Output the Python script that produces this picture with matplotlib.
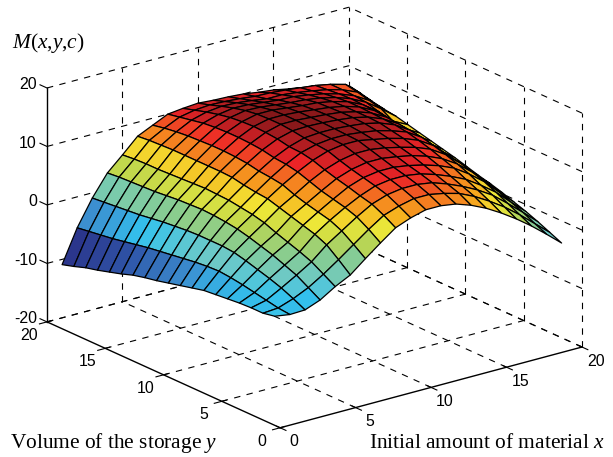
import numpy as np
import matplotlib
matplotlib.use("Agg")
import matplotlib.pyplot as plt
from matplotlib.colors import LinearSegmentedColormap, Normalize
from mpl_toolkits.mplot3d import proj3d

x_values = [1, 2, 3, 4, 5, 6, 7, 8, 9, 10, 11, 12, 13, 14, 15, 16, 17, 18, 19, 20]
y_values = [20, 18.99, 17.97, 16.96, 15.94, 14.93, 13.92, 12.90, 11.89, 10.88,
            9.86, 8.85, 7.83, 6.82, 5.81, 4.79, 3.78, 2.76, 1.75]
m_values = [
    [-10.9,-5.3,-0.9,2.7,5.1,7.6,8.8,10.0,10.3,10.5,10.3,10.2,10.0,9.6,9.3,8.8,8.2,7.7,7.1,6.6],
    [-10.3,-5.0,-0.7,2.9,5.3,7.8,9.2,10.4,10.9,11.1,11.0,10.8,10.5,10.4,10.2,9.9,9.6,9.1,8.4,6.2],
    [-9.6,-4.7,-0.5,3.0,5.4,7.9,9.5,10.8,11.5,11.8,11.7,11.4,11.0,11.0,10.7,10.3,9.8,9.1,8.0,5.7],
    [-9.1,-4.4,-0.3,3.1,5.4,8.0,9.7,11.2,12.0,12.4,12.3,12.0,11.7,11.6,11.2,10.7,10.0,9.0,7.5,5.3],
    [-8.5,-4.0,-0.1,3.2,5.5,8.0,9.8,11.4,12.4,12.9,12.8,12.5,12.2,12.0,11.6,11.0,10.1,8.8,7.0,5.0],
    [-7.9,-3.6,0.2,3.4,5.6,8.0,9.9,11.5,12.6,13.2,13.2,12.9,12.6,12.4,11.9,11.2,10.0,8.2,5.8,4.5],
    [-7.2,-3.2,0.5,3.6,5.7,8.0,9.9,11.5,12.7,13.3,13.3,13.1,12.8,12.5,12.0,11.2,9.9,7.7,5.4,4.0],
    [-6.7,-2.9,0.7,3.7,5.8,8.0,9.8,11.4,12.6,13.3,13.3,13.1,12.9,12.6,12.0,11.1,9.7,7.4,5.1,3.5],
    [-6.3,-2.6,0.9,3.8,5.7,7.9,9.6,11.2,12.4,13.1,13.2,13.1,12.9,12.6,12.0,11.0,9.5,7.2,4.8,3.0],
    [-5.8,-2.3,1.0,3.7,5.6,7.5,9.2,10.8,12.0,12.8,13.0,13.0,12.8,12.5,11.9,10.9,9.3,6.9,4.4,2.5],
    [-5.3,-2.0,1.0,3.5,5.3,7.2,9.0,10.6,11.9,12.6,12.9,12.9,12.6,12.2,11.5,10.6,9.0,6.5,4.0,1.9],
    [-4.8,-1.8,1.0,3.2,5.0,7.0,8.7,10.2,11.5,12.4,12.8,12.8,12.3,11.8,11.1,10.1,8.5,6.1,3.5,1.3],
    [-4.3,-1.7,0.8,2.7,4.5,6.4,7.9,9.5,10.8,11.7,12.2,12.2,11.8,11.2,10.5,9.5,7.9,5.7,3.0,0.8],
    [-4.1,-1.9,0.3,2.1,3.7,5.8,7.3,8.8,10.2,11.1,11.6,11.6,11.2,10.7,9.9,8.8,7.2,5.1,2.5,0.2],
    [-3.9,-2.2,-0.3,1.5,3.0,5.2,6.8,8.3,9.7,10.6,11.0,11.0,10.6,10.0,9.2,8.1,6.4,4.4,1.9,-0.5],
    [-3.7,-2.6,-0.9,0.7,2.3,4.6,6.3,7.8,9.1,10.1,10.5,10.5,10.1,9.3,8.3,7.1,5.4,3.5,1.1,-1.2],
    [-3.6,-3.0,-1.6,-0.1,1.5,3.7,5.4,7.1,8.6,9.5,9.9,9.9,9.5,8.6,7.5,6.2,4.6,2.5,0.3,-2.0],
    [-3.6,-3.4,-2.5,-1.3,0.3,2.1,4.0,5.9,7.6,8.5,9.1,9.1,8.6,7.9,6.7,5.2,3.5,1.5,-0.7,-2.9],
    [-3.2,-3.6,-3.5,-2.5,-0.9,0.4,2.5,4.5,6.4,7.4,8.1,8.1,7.7,6.8,5.6,4.1,2.4,0.5,-1.6,-3.8],
]
x_ticks = [0, 5, 10, 15, 20]
y_ticks = [0, 5, 10, 15, 20]
z_ticks = [-20, -10, 0, 10, 20]
x_title = r"Initial amount of material $x$"
y_title = r"Volume of the storage $y$"
z_title = r"$M(x{,}y{,}c)$"

plt.rcParams["font.family"] = "Liberation Sans"
plt.rcParams["mathtext.fontset"] = "custom"
plt.rcParams["mathtext.rm"] = "Liberation Serif"
plt.rcParams["mathtext.it"] = "Liberation Serif:italic"
plt.rcParams["lines.scale_dashes"] = False

WIDTH, HEIGHT = 613, 457
fig = plt.figure(figsize=(WIDTH / 100, HEIGHT / 100), dpi=100)
ax = fig.add_axes([0, 0, 1, 1], projection="3d")
ax.set_proj_type("ortho")
ax.view_init(elev=20.4, azim=-127.5)
ax.set_box_aspect((380.6, 383.0, 249.6))
ax.set_xlim(0, 20, view_margin=0)
ax.set_ylim(0, 20, view_margin=0)
ax.set_zlim(-20, 20, view_margin=0)
ax.set_axis_off()
ax.computed_zorder = False

cmap = LinearSegmentedColormap.from_list("cmyk_jet", [
    (0.00, "#2a2f85"), (0.14, "#2f55a8"), (0.24, "#3c8fd0"), (0.30, "#33c2ee"),
    (0.37, "#6cc9c8"), (0.46, "#86cc93"), (0.55, "#bcd64f"), (0.63, "#f1e836"),
    (0.70, "#f7b11e"), (0.77, "#f47a20"), (0.85, "#ec2427"), (0.93, "#a71c20"),
    (1.00, "#6c1414"),
])
norm = Normalize(vmin=-11.0, vmax=14.0)

X, Y = np.meshgrid(x_values, y_values)
Z = np.array(m_values)
X, Y, Z = X[::-1], Y[::-1], Z[::-1]
ax.plot_surface(X, Y, Z, rstride=1, cstride=1, facecolors=cmap(norm(Z)), shade=False,
                edgecolor="black", linewidth=0.9, antialiased=True, zorder=5)

dash = (0, (4.6, 4.6))
def seg(a, b, solid=False, lw=0.8, z=1):
    ax.plot([a[0], b[0]], [a[1], b[1]], [a[2], b[2]], color="black", lw=lw,
            ls="-" if solid else dash, zorder=z, clip_on=False)

zlo, zhi = z_ticks[0], z_ticks[-1]
for zt in z_ticks:
    seg((0, 20, zt), (20, 20, zt))
    seg((20, 0, zt), (20, 20, zt))
for t in x_ticks[1:]:
    seg((t, 20, zlo), (t, 20, zhi))
    seg((t, 0, zlo), (t, 20, zlo))
for t in y_ticks[:-1]:
    seg((20, t, zlo), (20, t, zhi))
for t in y_ticks[1:]:
    seg((0, t, zlo), (20, t, zlo))

seg((0, 20, zlo), (0, 20, zhi), solid=True, lw=1.0, z=3)
seg((0, 0, zlo), (20, 0, zlo), solid=True, lw=1.0, z=3)
seg((0, 0, zlo), (0, 20, zlo), solid=True, lw=1.0, z=3)
for t in x_ticks:
    seg((t, -0.5, zlo), (t, 0.3, zlo), solid=True, z=3)
for t in y_ticks:
    seg((-0.5, t, zlo), (0.3, t, zlo), solid=True, z=3)
for t in z_ticks:
    seg((0, 20, t), (0, 20.6, t), solid=True, z=3)

def project(x, y, z):
    u, v, _ = proj3d.proj_transform(x, y, z, ax.get_proj())
    return ax.transData.transform((u, v))

# Fit the drawing box to its place in the figure (targets in pixels from the top left).
for _ in range(3):
    fig.canvas.draw()
    a = project(0, 20, -20)
    b = project(20, 0, -20)
    c = project(20, 20, 20)
    d = project(0, 0, -20)
    bb = ax.get_window_extent()
    s = (582 - 47) / (b[0] - a[0])
    side = bb.width * s
    cx = (bb.x0 + bb.x1) / 2
    cy = (bb.y0 + bb.y1) / 2
    mid_x = (a[0] + b[0]) / 2
    mid_y = (c[1] + d[1]) / 2
    new_cx = (582 + 47) / 2 + (cx - mid_x) * s
    new_cy = HEIGHT - (7 + 428) / 2 + (cy - mid_y) * s
    ax.set_position([(new_cx - side / 2) / WIDTH, (new_cy - side / 2) / HEIGHT,
                     side / WIDTH, side / HEIGHT])
fig.canvas.draw()

def label(x, y, z, dx, dy, text, ha="center"):
    p = project(x, y, z)
    fig.text((p[0] + dx) / WIDTH, (p[1] - dy) / HEIGHT, text, ha=ha, va="center",
             fontsize=11.4, color="black")

for t in x_ticks:
    label(t, 0, -20, 14, 14, str(t))
for t in y_ticks:
    label(0, t, -20, -18, 13.5, str(t))
for t in z_ticks:
    label(0, 20, t, -10, -3, str(t), ha="right")

fig.text(369 / WIDTH, 1 - 443 / HEIGHT, x_title, family="Liberation Serif", fontsize=15.4,
         ha="left", va="center")
fig.text(10 / WIDTH, 1 - 443 / HEIGHT, y_title, family="Liberation Serif", fontsize=15.4,
         ha="left", va="center")
fig.text(12 / WIDTH, 1 - 43 / HEIGHT, z_title, family="Liberation Serif", fontsize=15.4,
         ha="left", va="center")

fig.savefig("out.png", dpi=100)
